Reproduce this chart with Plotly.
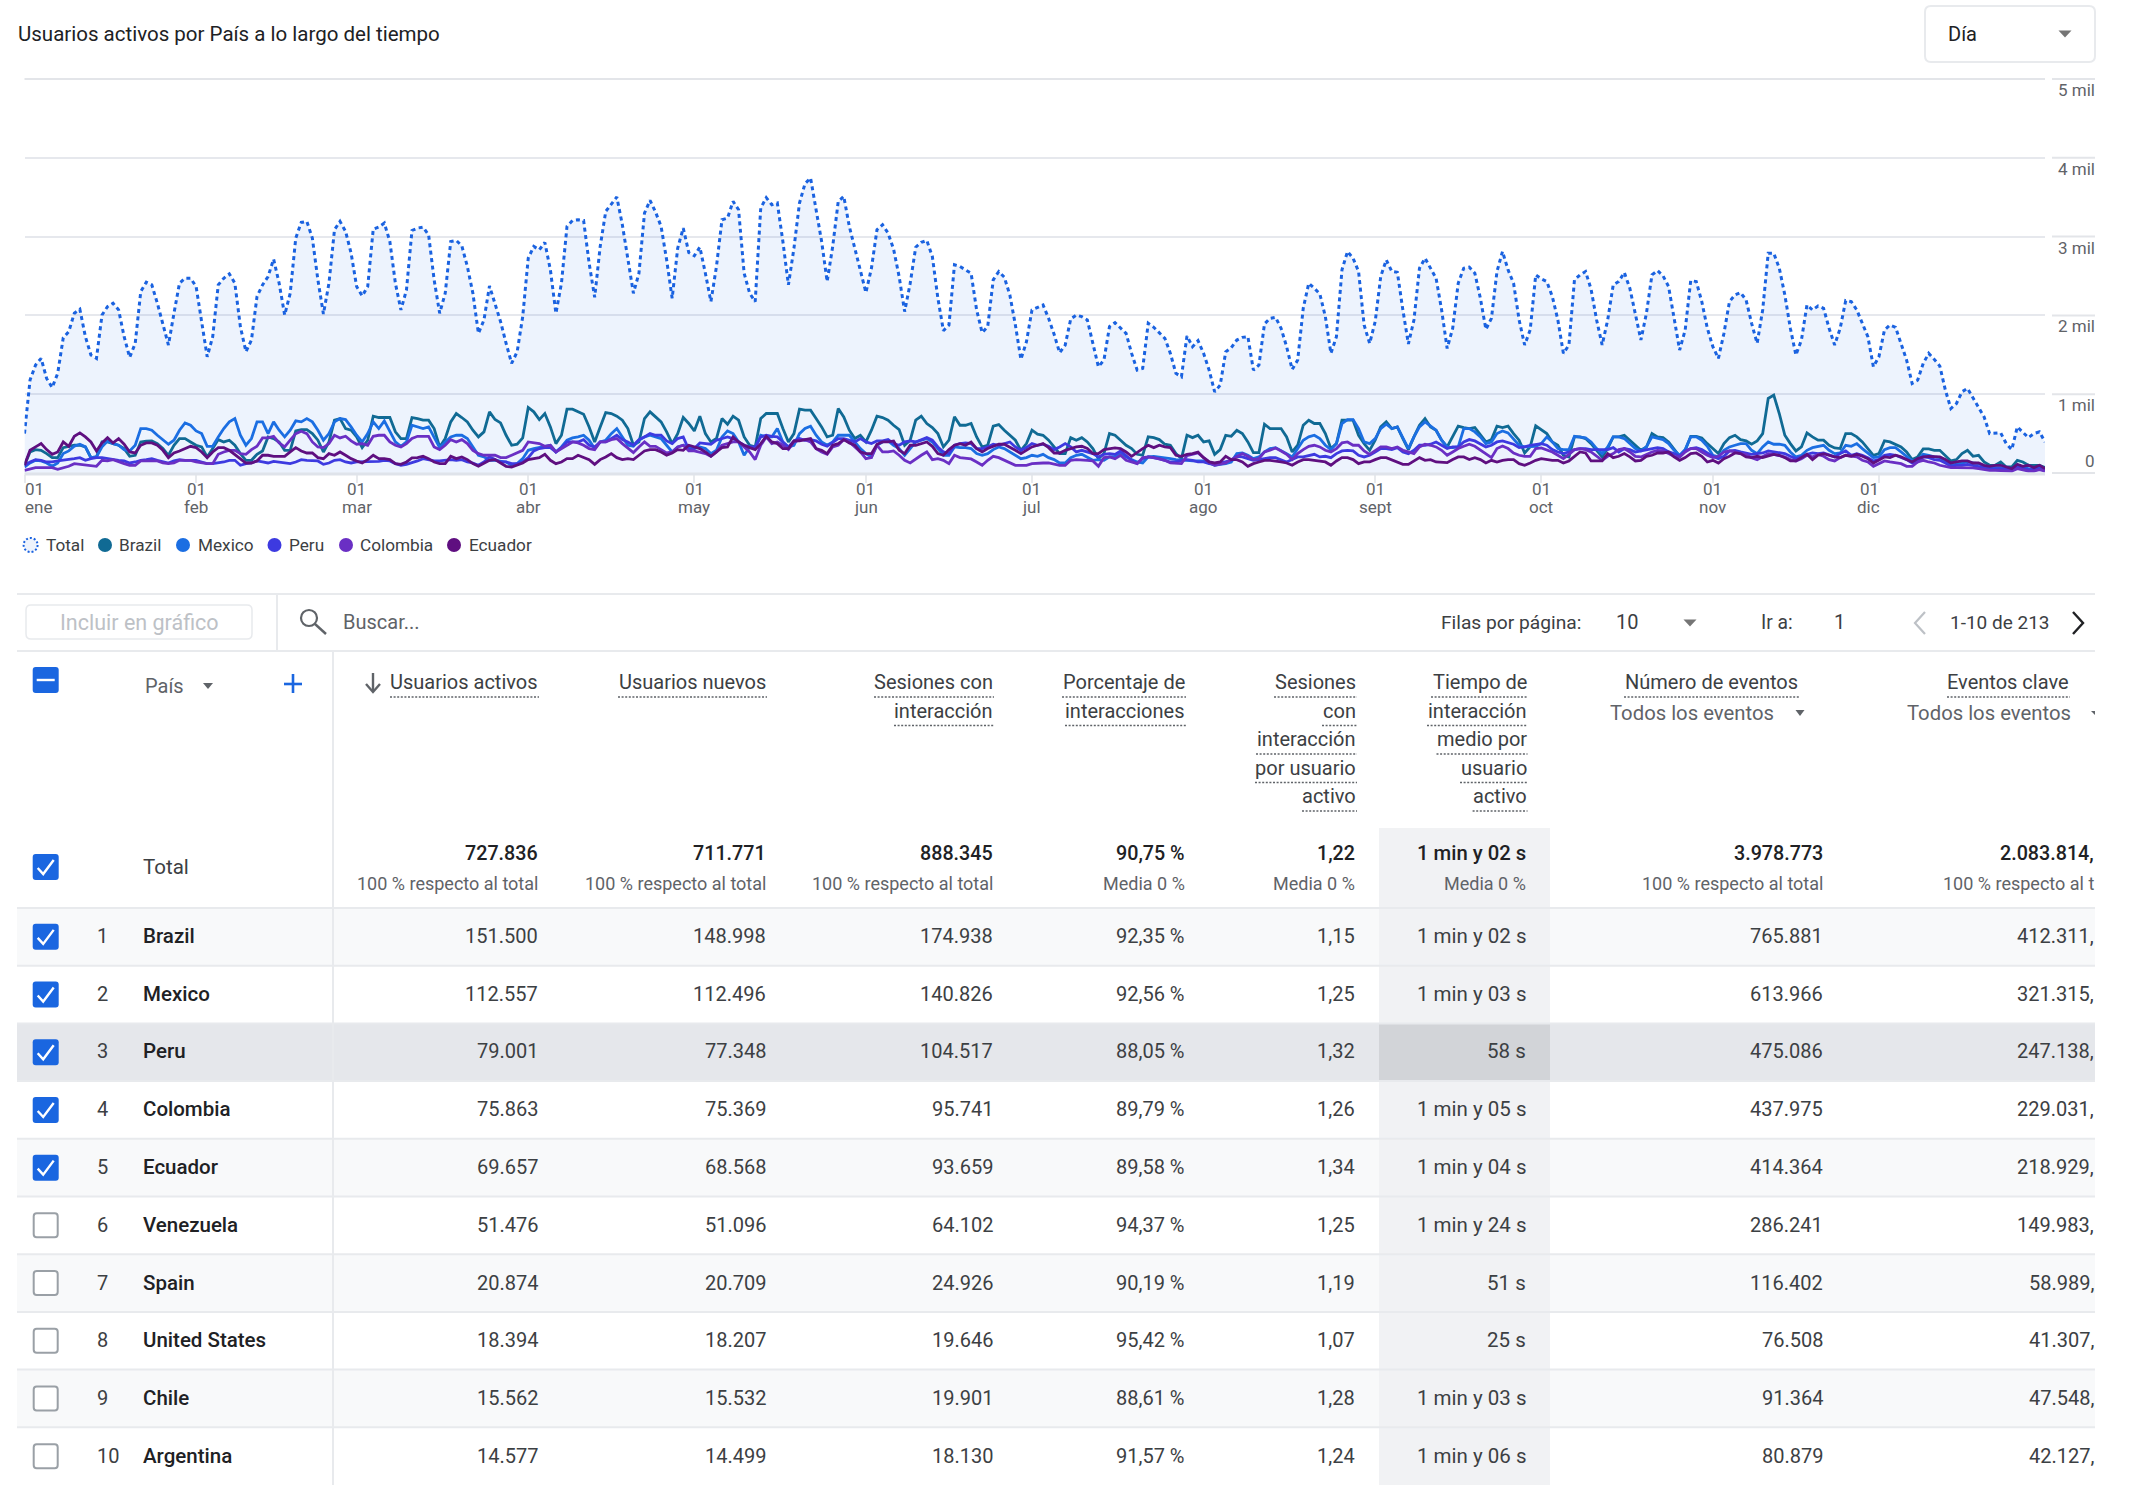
import pandas as pd
import plotly.graph_objects as go

# ---------- chart data ----------
total = [500,1180,1370,1455,1200,1085,1265,1717,1795,2027,2078,1730,1497,1454,2005,2112,2154,2070,1730,1467,1645,2302,2421,2387,2154,1878,1624,2027,2408,2472,2472,2366,1942,1475,1730,2387,2472,2527,2408,1857,1539,1687,2239,2387,2493,2714,2408,2005,2281,2981,3180,3193,
2981,2451,2018,2408,3087,3193,3066,2790,2366,2247,2366,3095,3121,3172,2938,2408,2069,2323,3078,3108,3121,3023,2451,2027,2281,2938,2951,2883,2620,2281,1772,1942,2374,2133,1921,1645,1391,1539,1984,2726,2875,2832,2926,2578,2027,2408,3129,3205,3214,3205,2663,2230,2875,
3320,3417,3502,3150,2705,2281,2535,3298,3460,3311,3129,2705,2218,2853,3108,2798,2756,2866,2535,2175,2620,3214,3235,3447,3341,2535,2281,2175,3362,3494,3405,3426,2938,2387,2853,3426,3672,3744,3341,2938,2430,2875,3447,3511,3129,2853,2578,2290,2599,3087,3150,3044,
2841,2493,2048,2408,2866,2926,2951,2748,2218,1806,1878,2642,2620,2578,2535,2069,1781,1857,2451,2557,2485,2260,1878,1442,1666,2069,2099,2133,1963,1760,1526,1624,1955,2005,1984,1942,1645,1348,1433,1857,1908,1836,1772,1518,1306,1327,1900,1849,1785,1709,1518,1264,1221,
1739,1603,1679,1518,1306,1030,1115,1539,1590,1687,1721,1730,1306,1370,1891,1963,1976,1836,1603,1314,1433,2090,2408,2345,2273,1984,1518,1730,2578,2811,2726,2557,1878,1645,1921,2493,2705,2557,2548,2069,1637,1942,2599,2726,2599,2472,2069,1581,1836,2408,2599,2612,
2536,2218,1823,1963,2557,2811,2578,2408,1942,1624,1815,2514,2463,2430,2239,1942,1518,1624,2451,2514,2557,2332,1942,1624,1942,2387,2430,2544,2345,2027,1688,2027,2514,2569,2502,2366,1963,1560,1815,2442,2430,2175,1836,1603,1454,1772,2175,2260,2290,2196,1900,1645,
2069,2790,2790,2599,2260,1836,1497,1687,2133,2069,2120,2090,1836,1624,1836,2188,2175,2069,1900,1730,1348,1475,1815,1878,1849,1645,1433,1136,1179,1391,1518,1442,1357,1052,818,882,1030,1073,946,831,712,500,500,509,373,297,585,522,449,500,522,394]

brazil = [98,267,297,288,246,195,195,322,339,352,352,331,195,204,394,394,373,352,310,212,225,394,403,407,373,310,225,352,437,437,394,352,331,204,310,424,394,416,352,246,161,161,237,280,458,437,394,288,288,534,551,551,
500,416,267,394,670,691,564,543,458,322,416,721,704,704,704,522,437,437,704,691,670,670,564,331,437,649,755,704,649,543,458,522,776,678,636,479,352,365,445,831,776,678,755,585,373,479,810,810,776,746,585,394,585,
767,755,721,670,564,352,394,691,776,712,649,522,373,500,704,628,534,721,500,394,437,691,619,721,670,458,352,331,691,755,755,755,564,394,500,810,797,797,691,585,458,479,818,712,543,437,479,394,543,721,704,670,
606,551,352,416,670,721,628,577,500,331,416,712,606,606,628,458,331,352,594,615,543,479,416,288,373,543,492,479,416,331,246,246,449,416,449,394,310,182,246,500,479,416,352,310,237,225,458,449,424,365,352,246,182,
479,449,479,394,407,237,297,479,466,543,500,394,259,259,619,564,564,564,458,267,352,606,670,628,628,500,310,373,670,670,670,479,373,288,416,585,649,564,585,437,297,458,606,691,585,543,416,331,458,594,577,564,
577,479,394,424,594,577,594,500,416,254,331,598,543,500,394,352,225,204,458,458,437,373,288,204,310,458,458,479,416,352,288,331,500,458,449,394,310,212,288,466,466,445,373,310,246,373,449,479,424,407,365,407,
500,946,988,755,479,373,280,331,509,458,416,416,352,318,310,500,500,458,394,310,225,246,407,394,365,331,267,170,204,305,305,288,288,225,153,170,246,288,212,225,140,98,98,140,76,76,161,140,98,98,98,68]

mexico = [76,127,161,153,127,85,127,246,280,339,365,331,195,204,331,407,373,352,297,280,352,564,564,543,479,416,365,416,543,636,606,534,500,339,339,458,564,649,691,479,352,437,649,649,500,649,543,458,543,661,649,691,
649,543,416,500,649,691,678,585,479,394,500,649,564,661,522,394,339,394,606,585,564,585,458,322,394,458,479,479,437,331,225,204,161,161,153,140,98,119,182,288,310,322,331,352,267,331,416,445,458,479,416,310,394,
416,500,564,458,352,339,416,458,479,458,437,352,267,331,352,322,310,331,310,246,288,458,534,500,394,225,331,310,479,458,458,564,394,331,352,500,564,594,479,394,352,394,479,479,479,394,310,246,204,352,394,407,
352,310,225,310,394,416,437,394,310,225,225,331,322,322,310,246,225,246,297,331,310,267,225,182,195,225,212,237,195,170,127,127,195,225,237,195,161,170,161,204,212,254,204,170,140,127,204,212,204,195,182,170,170,
161,153,153,153,127,98,110,119,140,246,254,225,182,204,267,310,322,288,246,204,310,416,458,479,437,352,297,373,628,678,678,564,394,373,437,564,619,564,585,437,310,458,585,649,594,543,416,331,322,331,564,564,
522,458,373,394,500,534,509,437,352,331,331,339,373,458,394,310,297,297,466,458,445,394,310,246,331,458,458,437,373,310,280,331,458,437,424,373,288,225,297,458,458,416,339,225,204,288,331,352,373,373,288,246,
331,394,365,365,352,267,204,225,288,322,339,352,288,246,254,352,339,373,310,254,195,204,297,322,322,267,204,153,170,237,225,204,195,153,98,110,119,140,127,119,85,68,68,68,55,55,85,76,55,51,68,42]

peru = [98,140,170,161,140,140,153,161,170,182,195,161,182,195,195,182,170,161,153,127,140,161,170,182,161,140,127,153,170,161,161,161,140,119,119,127,140,161,161,98,119,127,153,140,127,148,140,127,119,140,170,161,
161,153,110,127,161,170,140,127,140,140,140,148,148,161,153,119,98,110,127,153,182,170,153,153,161,170,161,170,140,127,98,140,204,170,140,140,119,119,140,195,280,310,322,322,267,322,394,394,394,424,352,331,394,
394,437,479,424,394,352,424,458,500,479,479,407,373,437,458,297,310,382,373,365,416,437,458,437,394,352,331,331,458,479,466,458,394,331,407,437,416,424,407,365,339,394,437,437,416,394,437,394,373,407,407,424,
373,352,394,407,394,424,449,416,331,267,246,352,373,382,373,310,310,331,365,352,373,394,331,288,322,373,352,365,339,297,331,373,331,267,288,267,246,204,237,246,237,280,225,161,119,182,204,195,182,161,140,140,161,
170,161,140,140,119,110,127,140,161,212,204,182,161,170,182,195,195,170,140,170,204,204,225,237,204,212,195,246,280,288,280,225,204,225,267,310,310,297,322,267,246,288,352,352,365,394,352,310,331,331,394,424,
407,365,331,352,394,407,382,365,322,331,352,365,373,352,297,267,246,267,297,310,310,297,297,297,297,322,267,310,297,267,280,297,310,322,310,267,246,212,280,310,322,297,254,212,182,212,280,288,267,254,237,246,
254,280,267,254,246,212,182,204,237,254,246,254,225,204,246,280,225,246,225,195,153,170,225,237,225,195,170,127,140,204,195,170,161,127,85,98,98,110,98,85,68,51,51,55,42,42,68,55,42,42,55,34]

colombia = [34,55,68,68,68,68,47,64,85,119,110,98,85,85,161,153,170,140,119,98,98,153,153,153,153,127,119,127,161,161,161,140,127,119,119,237,267,288,288,246,237,297,339,445,445,466,382,331,416,500,530,500,
394,331,322,373,479,445,466,407,365,373,352,466,479,479,394,352,331,373,437,466,466,466,331,297,352,424,394,424,373,288,246,225,225,225,195,195,225,254,288,394,382,373,339,352,267,310,352,394,382,352,310,297,394,
394,424,437,373,310,259,331,394,339,339,297,254,267,331,352,280,280,267,246,212,267,352,373,394,394,331,267,170,352,458,373,394,352,297,394,416,424,394,310,267,237,331,352,424,394,331,267,182,195,352,267,267,
280,225,161,127,182,225,267,170,182,161,119,225,195,187,178,140,98,161,212,195,161,127,98,98,98,119,127,127,127,110,98,98,161,170,170,161,153,85,195,204,182,225,161,140,119,195,204,195,182,161,127,119,119,
220,237,254,195,140,98,110,127,170,212,246,212,170,182,267,288,318,280,237,170,246,297,339,352,331,288,267,310,382,394,352,352,280,237,288,331,331,310,331,288,267,246,331,365,352,331,288,225,267,310,339,365,
339,288,237,195,310,343,310,254,225,212,212,310,318,297,267,225,182,237,297,310,297,267,212,161,212,246,297,310,267,212,204,237,267,288,280,246,212,204,267,310,310,267,225,195,212,267,280,267,246,237,195,170,
204,246,237,225,204,170,153,182,225,204,237,212,170,153,195,225,212,204,161,140,85,119,153,140,127,119,85,85,140,161,140,127,98,85,68,68,68,68,64,55,42,34,34,34,25,25,55,42,25,25,42,25]

ecuador = [98,288,331,373,297,237,267,394,339,466,509,458,394,280,382,449,382,437,365,267,254,352,382,382,352,288,195,254,280,310,339,322,267,195,267,322,322,288,237,182,127,127,153,225,225,212,212,212,267,322,280,254,
254,195,182,246,225,267,225,182,153,127,170,225,182,182,170,119,110,140,191,195,212,182,140,119,119,212,182,204,170,119,85,119,161,170,127,85,76,98,127,170,178,195,237,161,119,140,182,182,225,195,170,110,170,
204,246,195,170,182,170,225,280,297,297,267,225,254,297,288,352,331,310,267,212,267,322,331,458,394,352,322,297,373,466,394,373,310,310,407,407,424,437,310,288,246,352,373,424,382,352,267,246,246,365,394,394,
407,288,246,352,352,373,394,339,246,225,297,352,373,352,394,310,267,310,339,365,365,331,288,246,288,331,352,373,322,254,254,288,310,331,339,310,246,246,297,310,318,310,267,212,267,310,352,322,352,331,322,225,212,
237,246,267,195,140,127,140,212,170,170,140,85,119,140,161,161,153,140,127,98,140,170,170,161,153,140,98,153,195,195,170,119,140,140,170,195,195,170,140,110,110,153,195,161,170,140,131,131,170,204,204,170,
195,170,127,161,140,161,170,170,119,98,127,161,182,170,161,161,127,153,212,267,254,153,153,153,246,195,212,246,204,153,161,212,225,254,254,267,204,161,195,246,254,212,140,161,127,182,212,254,246,204,195,212,
195,212,237,225,195,153,153,195,237,170,225,246,225,204,195,225,212,237,212,182,127,161,204,195,225,204,170,140,182,204,212,212,204,170,127,140,153,153,127,127,98,85,98,98,76,55,110,85,98,68,98,55]

series_names = ["Total", "Brazil", "Mexico", "Peru", "Colombia", "Ecuador"]
series_colors = ["#1a62e0", "#106a94", "#1b6ee2", "#3d3ae0", "#6a2fc4", "#5f0f80"]
y_tick_values = [0, 1000, 2000, 3000, 4000, 5000]
y_tick_labels = ["0", "1 mil", "2 mil", "3 mil", "4 mil", "5 mil"]
month_days = ["2024-01-01","2024-02-01","2024-03-01","2024-04-01","2024-05-01","2024-06-01","2024-07-01","2024-08-01","2024-09-01","2024-10-01","2024-11-01","2024-12-01"]
month_labels = ["ene","feb","mar","abr","may","jun","jul","ago","sept","oct","nov","dic"]
month_label_shift = [14,0,0,0,0,0,0,0,0,0,0,-10]
day_label_shift = [10,0,0,0,0,0,0,0,0,0,0,-9]

# ---------- table data ----------
countries = ["Brazil","Mexico","Peru","Colombia","Ecuador","Venezuela","Spain","United States","Chile","Argentina"]
checked = [True,True,True,True,True,False,False,False,False,False]
usuarios_activos = ["151.500","112.557","79.001","75.863","69.657","51.476","20.874","18.394","15.562","14.577"]
usuarios_nuevos = ["148.998","112.496","77.348","75.369","68.568","51.096","20.709","18.207","15.532","14.499"]
sesiones_interaccion = ["174.938","140.826","104.517","95.741","93.659","64.102","24.926","19.646","19.901","18.130"]
porcentaje = ["92,35 %","92,56 %","88,05 %","89,79 %","89,58 %","94,37 %","90,19 %","95,42 %","88,61 %","91,57 %"]
sesiones_por_usuario = ["1,15","1,25","1,32","1,26","1,34","1,25","1,19","1,07","1,28","1,24"]
tiempo = ["1 min y 02 s","1 min y 03 s","58 s","1 min y 05 s","1 min y 04 s","1 min y 24 s","51 s","25 s","1 min y 03 s","1 min y 06 s"]
eventos = ["765.881","613.966","475.086","437.975","414.364","286.241","116.402","76.508","91.364","80.879"]
eventos_clave = ["412.311,","321.315,","247.138,","229.031,","218.929,","149.983,","58.989,","41.307,","47.548,","42.127,"]
totales = ["727.836","711.771","888.345","90,75 %","1,22","1 min y 02 s","3.978.773","2.083.814,"]
subtotales = ["100 % respecto al total","100 % respecto al total","100 % respecto al total","Media 0 %","Media 0 %","Media 0 %","100 % respecto al total","100 % respecto al t"]
column_values = [usuarios_activos,usuarios_nuevos,sesiones_interaccion,porcentaje,sesiones_por_usuario,tiempo,eventos,eventos_clave]
column_headers = [["Usuarios activos"],["Usuarios nuevos"],["Sesiones con","interacción"],["Porcentaje de","interacciones"],
                  ["Sesiones","con","interacción","por usuario","activo"],["Tiempo de","interacción","medio por","usuario","activo"],
                  ["Número de eventos"],["Eventos clave"]]

for s in (total, brazil, mexico, peru, colombia, ecuador):
    assert len(s) == 366, len(s)

# ---------- layout constants (pixels) ----------
W, H = 2136, 1503
FONT = "Roboto"
DARK, MID, GRID = "#202124", "#5f6368", "#e8eaed"
BLUE = "#1a66e0"
X0, X1 = 24.5, 2045
Y5, Y0 = 79, 473
RIGHT = 2095
col_right = [538.8, 766.8, 993.8, 1185.8, 1356.3, 1527.3, 1823.8, 2095]
header_left = [[390],[618],[874,894],[1062,1065],[1274,1322,1256,1255,1302],[1431,1427,1436.5,1460,1472.6],[1624],[1947]]
header_right = [539,767,994,1186,1357,1527.5,1799,2070]
HILITE = (1379, 1550)
ROW_TOP = 908
ROW_H = 57.7

dates = pd.date_range("2024-01-01", periods=366).strftime("%Y-%m-%d").tolist()
fig = go.Figure()
fig.add_trace(go.Scatter(x=dates, y=total, name="Total", mode="lines", fill="tozeroy", fillcolor="rgba(26,98,224,0.08)",
                         line=dict(color=series_colors[0], width=3, dash="4px,3.5px")))
for nm, vals, col in zip(series_names[1:], [brazil, mexico, peru, colombia, ecuador], series_colors[1:]):
    fig.add_trace(go.Scatter(x=dates, y=vals, name=nm, mode="lines", line=dict(color=col, width=2.8)))
# invisible pixel-space overlay
fig.add_trace(go.Scatter(x=[0], y=[0], xaxis="x2", yaxis="y2", mode="markers", marker=dict(opacity=0), showlegend=False, hoverinfo="skip"))

shapes, notes = [], []

def rect(x0, y0, x1, y1, fill=None, line=None, lw=1):
    shapes.append(dict(type="rect", xref="x2", yref="y2", x0=x0, y0=y0, x1=x1, y1=y1, fillcolor=fill or "rgba(0,0,0,0)",
                       line=dict(color=line or "rgba(0,0,0,0)", width=lw if line else 0)))

def hline(x0, y0, x1, y1, color=GRID, w=2, dash=None):
    shapes.append(dict(type="line", xref="x2", yref="y2", x0=x0, y0=y0, x1=x1, y1=y1, line=dict(color=color, width=w, dash=dash or "solid")))

def path(d, fill=None, line=None, lw=1):
    shapes.append(dict(type="path", xref="x2", yref="y2", path=d, fillcolor=fill or "rgba(0,0,0,0)",
                       line=dict(color=line or "rgba(0,0,0,0)", width=lw if line else 0)))

def text(x, y, s, size=20, color=DARK, anchor="left", weight=400):
    notes.append(dict(xref="x2", yref="y2", x=x, y=y, text=s, showarrow=False, xanchor=anchor, yanchor="middle", borderpad=0,
                      font=dict(family=FONT, size=size, color=color, weight=weight)))

def rrect(x0, y0, x1, y1, r, fill=None, line=None, lw=1):
    path(f"M{x0+r},{y0} L{x1-r},{y0} Q{x1},{y0} {x1},{y0+r} L{x1},{y1-r} Q{x1},{y1} {x1-r},{y1} L{x0+r},{y1} Q{x0},{y1} {x0},{y1-r} L{x0},{y0+r} Q{x0},{y0} {x0+r},{y0} Z", fill, line, lw)

def tri(cx, cy, w=13, h=7, color="#757575"):
    path(f"M{cx-w/2},{cy-h/2} L{cx+w/2},{cy-h/2} L{cx},{cy+h/2} Z", fill=color)

def checkbox(cx, cy, state):
    x0, x1, y0, y1 = cx-13, cx+13, cy-13, cy+13
    if state == "off":
        rrect(x0+1, y0+1, x1-1, y1-1, 3, "#ffffff", "#9aa0a6", 2)
        return
    rrect(x0, y0, x1, y1, 3, BLUE)
    if state == "on":
        path(f"M{cx-8},{cy+1} L{cx-2.5},{cy+7} L{cx+8},{cy-7}", None, "#ffffff", 2.4)
    else:
        hline(cx-9, cy, cx+9, cy, "#ffffff", 2.4)

# top bar
text(17, 34, "Usuarios activos por País a lo largo del tiempo", 20.5, DARK)
rrect(1925, 6, 2095, 62, 6, None, GRID, 2)
text(1947, 34, "Día", 20, DARK)
tri(2065, 34)

# top and bottom gridlines of the chart, then right stubs and axis labels
hline(X0, Y5, X1, Y5, "#e3e5e9", 2)
hline(X0, Y0 + 1, X1, Y0 + 1, "#dfe3ea", 3)
for v, lab in zip(y_tick_values, y_tick_labels):
    py = Y0 - (Y0 - Y5) * v / 5000
    hline(2052, py, RIGHT, py, "#e3e5e9", 2)
    text(RIGHT + 1, py - 12 if v == 0 else py + 11, lab, 17, MID, "right")

for d, lab, sh, dsh in zip(month_days, month_labels, month_label_shift, day_label_shift):
    i = dates.index(d)
    px = X0 + (X1 - X0) * i / 365
    text(px + dsh, 489, "01", 17, MID, "center")
    text(px + sh, 507, lab, 17, MID, "center")

# legend
leg_cx = [30.6, 105, 183, 274.5, 346, 454]
leg_tx = [44.5, 117.5, 196.5, 288, 359, 467.5]
for i, nm in enumerate(series_names):
    if i == 0:
        shapes.append(dict(type="circle", xref="x2", yref="y2", x0=leg_cx[i]-7, x1=leg_cx[i]+7, y0=545-7, y1=545+7,
                           fillcolor="#eef3fc", line=dict(color=series_colors[0], width=2, dash="2px,2px")))
    else:
        shapes.append(dict(type="circle", xref="x2", yref="y2", x0=leg_cx[i]-7, x1=leg_cx[i]+7, y0=545-7, y1=545+7,
                           fillcolor=series_colors[i], line=dict(width=0)))
    text(leg_tx[i], 545, nm, 17.2, "#3c4043")

# toolbar
hline(17, 594, RIGHT, 594)
hline(17, 651, RIGHT, 651)
hline(277, 594, 277, 651)
rrect(26, 605, 252, 639, 5, None, GRID, 1.5)
text(139, 622, "Incluir en gráfico", 21.5, "#bdc1c6", "center")
shapes.append(dict(type="circle", xref="x2", yref="y2", x0=301, x1=317, y0=610, y1=626, line=dict(color=MID, width=2.2)))
hline(315, 624, 326, 634, MID, 2.4)
text(341.5, 622, "Buscar...", 20, MID)
text(1440, 622, "Filas por página:", 19.2, "#3c4043")
text(1615, 622, "10", 20, "#3c4043")
tri(1690, 623)
text(1760, 622, "Ir a:", 19.3, "#3c4043")
text(1833, 622, "1", 20, "#3c4043")
path("M1925,612 L1915,623 L1925,634", None, "#bdc1c6", 2.2)
text(1948.5, 622, "1-10 de 213", 19, "#3c4043")
path("M2073,612 L2083,623 L2073,634", None, "#202124", 2.4)

# row backgrounds, highlighted column, lines
row_bg = ["#f8f9fa","#ffffff","#e5e7eb","#ffffff","#f8f9fa","#ffffff","#f8f9fa","#ffffff","#f8f9fa","#ffffff"]
hi_bg = ["#f1f2f4","#f1f2f4","#d2d4d8","#f1f2f4","#f1f2f4","#f1f2f4","#f1f2f4","#f1f2f4","#f1f2f4","#f1f2f4"]
rect(HILITE[0], 828, HILITE[1], ROW_TOP, "#f1f2f4")
for i in range(10):
    y0 = ROW_TOP + i * ROW_H
    rect(17, y0, RIGHT, y0 + ROW_H, row_bg[i])
    rect(HILITE[0], y0, HILITE[1], y0 + ROW_H, hi_bg[i])
for i in range(10):
    hline(17, ROW_TOP + i * ROW_H, RIGHT, ROW_TOP + i * ROW_H)
hline(333, 651, 333, 1485)

# header
checkbox(45.7, 680, "minus")
text(143.5, 686, "País", 20, MID)
tri(208, 686, 10, 6, "#5f6368")
hline(293, 674, 293, 693, BLUE, 2.6)
hline(284, 684, 302, 684, BLUE, 2.6)
hline(373, 673, 373, 691, MID, 2.4)
path("M366,684 L373,692 L380,684", None, MID, 2.4)
LINE0, LINE_H = 682, 28.5
for c, lines in enumerate(column_headers):
    for j, s in enumerate(lines):
        y = LINE0 + j * LINE_H
        text(header_right[c], y, s, 20, "#3c4043", "right")
        hline(header_left[c][j], y + 15, header_right[c], y + 15, "#5f6368", 1.6, "2px,1.6px")
text(1775, 713, "Todos los eventos", 20.3, MID, "right")
tri(1800, 713, 9, 6, "#5f6368")
text(2072, 713, "Todos los eventos", 20.3, MID, "right")
path("M2091,711 L2095,711 L2095,715 Z", fill="#5f6368")

# total row
checkbox(45.7, 867, "on")
text(142, 867, "Total", 20.5, "#3c4043")
for c in range(8):
    text(col_right[c], 853, totales[c], 20.3 if c == 5 else 19.7, DARK, "right", 500)
    text(col_right[c], 883.2, subtotales[c], 18, MID, "right")

# body rows
for i, nm in enumerate(countries):
    cy = ROW_TOP + (i + 0.5) * ROW_H - 1 + i * 0.1
    checkbox(45.7, ROW_TOP + (i + 0.5) * ROW_H, "on" if checked[i] else "off")
    text(96, cy, str(i + 1), 20, "#3c4043")
    text(141.5, cy, nm, 20.5, DARK, "left", 500)
    for c in range(8):
        text(col_right[c], cy, column_values[c][i], 20.5 if c == 5 else 20, "#3c4043", "right")

fig.update_layout(
    width=W, height=H, margin=dict(l=0, r=0, t=0, b=0), paper_bgcolor="#ffffff", plot_bgcolor="rgba(0,0,0,0)",
    showlegend=False, hovermode=False, font=dict(family=FONT),
    xaxis=dict(type="date", domain=[X0 / W, X1 / W], range=[dates[0], dates[-1]], showgrid=False, zeroline=False, showticklabels=False,
               tickvals=month_days, ticks="outside", ticklen=8, tickcolor=GRID, tickwidth=1.5, showline=False),
    yaxis=dict(domain=[1 - (Y0 + 1) / H, 1 - (Y5 - 1) / H], range=[-12.7, 5012.7], tickvals=y_tick_values, showticklabels=False, ticks="",
               gridcolor="rgba(200,205,215,0.45)", gridwidth=2, zeroline=False, showline=False),
    xaxis2=dict(domain=[0, 1], range=[0, W], visible=False, anchor="y2", fixedrange=True),
    yaxis2=dict(domain=[0, 1], range=[H, 0], visible=False, anchor="x2", fixedrange=True),
    shapes=shapes, annotations=notes,
)
fig.write_html("out.html", config=dict(displayModeBar=False), post_script="document.body.style.margin='0';")
